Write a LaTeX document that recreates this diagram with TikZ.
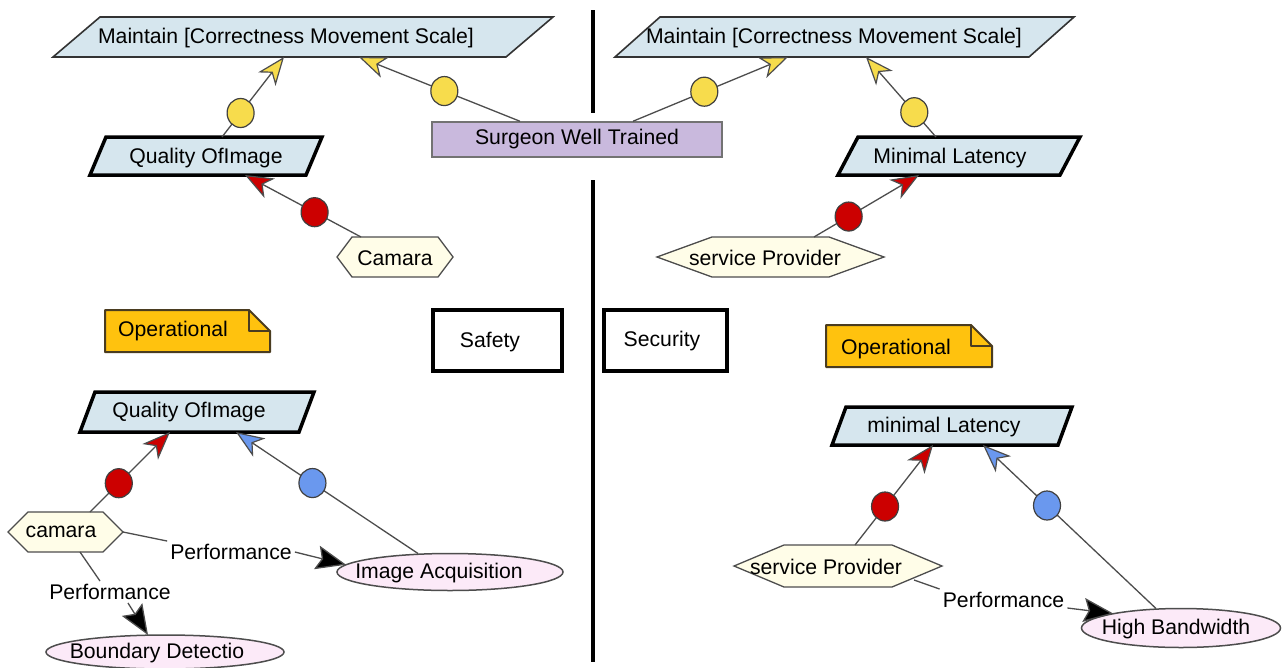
\documentclass[tikz,border=0pt]{standalone}
\usepackage{fontspec}
\setmainfont{Liberation Sans}
\usetikzlibrary{arrows.meta,shapes.geometric}
\definecolor{paraF}{HTML}{D6E6EE}
\definecolor{surgF}{HTML}{C9B9DD}
\definecolor{hexF}{HTML}{FFFDE8}
\definecolor{ellF}{HTML}{FCEAF8}
\definecolor{opF}{HTML}{FFC20E}
\definecolor{opD}{HTML}{4A3C20}
\definecolor{linG}{HTML}{4D4D4D}
\definecolor{cY}{HTML}{F7DC4C}
\definecolor{cR}{HTML}{CC0000}
\definecolor{cB}{HTML}{6A98EE}
\newcommand{\drawpara}[3]{\path[#3] (#1.south west) -- ([xshift=#2pt]#1.north west) -- (#1.north east) -- ([xshift=-#2pt]#1.south east) -- cycle;}
\newcommand{\drawhex}[3]{\path[#3] (#1.west) -- ([xshift=#2pt]#1.north west) -- ([xshift=-#2pt]#1.north east) -- (#1.east) -- ([xshift=-#2pt]#1.south east) -- ([xshift=#2pt]#1.south west) -- cycle;}
\newcommand{\drawnote}[2]{\path[#2] (#1.south west) -- (#1.north west) -- ([xshift=-21pt]#1.north east) -- ([yshift=-21pt]#1.north east) -- (#1.south east) -- cycle;
  \draw[#2, fill=none] ([xshift=-21pt]#1.north east) -- ([xshift=-21pt,yshift=-21pt]#1.north east) -- ([yshift=-21pt]#1.north east);}
\begin{document}
\begin{tikzpicture}[x=1pt,y=-1pt,
  every node/.style={font=\fontsize{21.2pt}{25pt}\selectfont},
  box/.style={rectangle, inner sep=0pt, outer sep=0pt, draw=none},
  txt/.style={inner sep=0pt, text=black},
  paraT/.style={fill=paraF, draw=black!80, line width=1.6pt},
  paraK/.style={fill=paraF, draw=black, line width=3.5pt},
  hexS/.style={fill=hexF, draw=linG, line width=1.3pt},
  ellS/.style={ellipse, fill=ellF, draw=linG, line width=1.5pt, inner sep=0pt, outer sep=0pt},
  noteS/.style={fill=opF, draw=opD, line width=2pt, line join=round},
  circ/.style={ellipse, minimum width=27pt, minimum height=29pt, inner sep=0pt, draw=black!75, line width=1.2pt},
  yc/.style={circ, fill=cY},
  rc/.style={circ, fill=cR},
  bc/.style={circ, fill=cB},
  conn/.style={draw=linG, line width=1.3pt},
  ya/.style={conn, -{Stealth[length=28pt,width=22pt,inset=8pt,fill=cY,line width=1.2pt]}},
  ra/.style={conn, -{Stealth[length=28pt,width=22pt,inset=8pt,fill=cR,line width=1.2pt]}},
  ba/.style={conn, -{Stealth[length=28pt,width=22pt,inset=8pt,fill=cB,line width=1.2pt]}},
  perf/.style={conn, -{Stealth[length=30pt,width=24pt,inset=5pt,fill=black]}},
  plab/.style={inner sep=3pt},
  sq/.style={draw=black, line width=3.5pt, inner sep=0pt}
]
\useasboundingbox (0,0) rectangle (1284,667);
\fill[white] (0,0) rectangle (1284,667);

% dividing line
\draw[line width=4pt] (593,10) -- (593,113);
\draw[line width=4pt] (593,180) -- (593,662);

% top parallelograms
\node[box, minimum width=500pt, minimum height=40pt] (m1) at (303,37) {};
\drawpara{m1}{47}{paraT}
\node[txt] (m1t) at (286,38) {Maintain [Correctness Movement Scale]};
\node[box, minimum width=459pt, minimum height=40pt] (m2) at (844.5,37) {};
\drawpara{m2}{45}{paraT}
\node[txt] (m2t) at (834,38) {Maintain [Correctness Movement Scale]};

\node[box, minimum width=232pt, minimum height=38pt] (q1) at (206,156) {};
\drawpara{q1}{16}{paraK}
\node[txt] (q1t) at (206,158) {Quality OfImage};
\node[box, minimum width=242pt, minimum height=38pt] (ml1) at (959,156) {};
\drawpara{ml1}{20}{paraK}
\node[txt] (ml1t) at (950,158) {Minimal Latency};
\node[box, minimum width=234pt, minimum height=40pt] (q2) at (197,412) {};
\drawpara{q2}{15}{paraK}
\node[txt] (q2t) at (189,412) {Quality OfImage};
\node[box, minimum width=240pt, minimum height=38pt] (ml2) at (952,426) {};
\drawpara{ml2}{14}{paraK}
\node[txt] (ml2t) at (944,427) {minimal Latency};

% surgeon
\node[draw=black!55, fill=surgF, line width=1.5pt, minimum width=290pt, minimum height=35pt, inner sep=0pt] (sw) at (577,139.5) {Surgeon Well Trained};

% hexagons
\node[box, minimum width=116pt, minimum height=40pt] (cam) at (395,257) {};
\drawhex{cam}{15}{hexS}
\node[txt] (camt) at (395,258) {Camara};
\node[box, minimum width=227pt, minimum height=40pt] (sp1) at (770.5,257) {};
\drawhex{sp1}{55}{hexS}
\node[txt] (sp1t) at (765,258) {service Provider};
\node[box, minimum width=115pt, minimum height=40pt] (cam2) at (65.5,532) {};
\drawhex{cam2}{20}{hexS}
\node[txt] (cam2t) at (61,532) {camara};
\node[box, minimum width=208pt, minimum height=42pt] (sp2) at (838,566) {};
\drawhex{sp2}{50}{hexS}
\node[txt] (sp2t) at (826,567) {service Provider};

% ellipses
\node[ellS, minimum width=226pt, minimum height=37pt] (ia) at (450,572) {};
\node[txt] (iat) at (439,573) {Image Acquisition};
\node[ellS, minimum width=238pt, minimum height=34pt] (bd) at (165,652) {};
\node[txt] (bdt) at (157,653) {Boundary Detectio};
\node[ellS, minimum width=199pt, minimum height=39pt] (hb) at (1181,628) {};
\node[txt] (hbt) at (1176,629) {High Bandwidth};

% notes
\node[box, minimum width=165pt, minimum height=42pt] (op1) at (187.5,331) {};
\drawnote{op1}{noteS}
\node[txt] (op1t) at (173,331) {Operational};
\node[box, minimum width=166pt, minimum height=42pt] (op2) at (909,346) {};
\drawnote{op2}{noteS}
\node[txt] (op2t) at (896,349) {Operational};

% safety / security
\node[sq, minimum width=129pt, minimum height=61pt] (saf) at (497.5,340.5) {};
\node[txt] (saft) at (490,342) {Safety};
\node[sq, minimum width=123pt, minimum height=61pt] (sec) at (665.5,340.5) {};
\node[txt] (sect) at (662,341) {Security};

% contribution links
\draw[ya] ([xshift=16pt]q1.north) -- node[yc,pos=0.3] (c1) {} ([xshift=-19pt]m1.south);
\draw[ya] ([xshift=-57pt]sw.north) -- node[yc,pos=0.47] (c2) {} ([xshift=56pt]m1.south);
\draw[ya] ([xshift=56pt]sw.north) -- node[yc,pos=0.46] (c3) {} ([xshift=-56.5pt]m2.south);
\draw[ya] ([xshift=-23pt]ml1.north) -- node[yc,pos=0.31] (c4) {} ([xshift=21.5pt]m2.south);
\draw[ra] ([xshift=-34pt]cam.north) -- node[rc,pos=0.4] (c5) {} ([xshift=39pt]q1.south);
\draw[ra] ([xshift=43.5pt]sp1.north) -- node[rc,pos=0.33] (c6) {} ([xshift=-40pt]ml1.south);
\draw[ra] ([xshift=24.5pt]cam2.north) -- node[rc,pos=0.36] (c7) {} ([xshift=-27pt]q2.south);
\draw[ba] ([xshift=-32pt]ia.north) -- node[bc,pos=0.58] (c8) {} ([xshift=39pt]q2.south);
\draw[ra] ([xshift=17pt]sp2.north) -- node[rc,pos=0.385] (c9) {} ([xshift=-19pt]ml2.south);
\draw[ba] ([xshift=-25pt]hb.north) -- node[bc,pos=0.63] (c10) {} ([xshift=31pt]ml2.south);

% performance links
\node[plab] (pf1) at (231,552) {Performance};
\draw[conn] (cam2.east) -- (pf1.north west);
\draw[perf] (pf1.east) -- (ia.176);
\node[plab] (pf2) at (110,592) {Performance};
\draw[conn] ([xshift=14.5pt]cam2.south) -- ([xshift=-10pt]pf2.north);
\draw[perf] ([xshift=18pt]pf2.south) -- ([xshift=-17pt]bd.north);
\node[plab] (pf3) at (1003.5,600) {Performance};
\draw[conn] ([xshift=-28pt,yshift=-14pt]sp2.east) -- (pf3.north west);
\draw[perf] ([yshift=-8pt]pf3.east) -- (hb.168);
\end{tikzpicture}
\end{document}
